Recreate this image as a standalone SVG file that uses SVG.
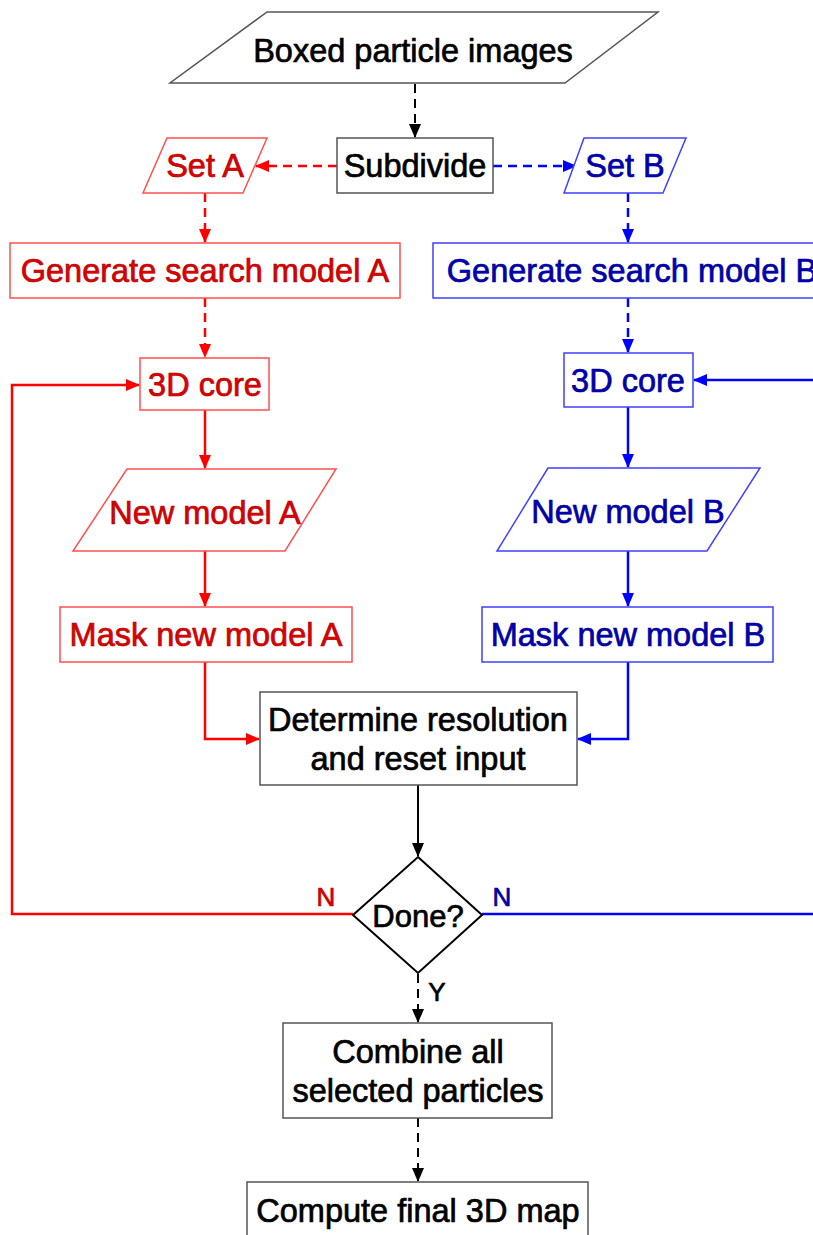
<svg xmlns="http://www.w3.org/2000/svg" width="813" height="1235" viewBox="0 0 813 1235">
<style>
text{font-family:"Liberation Sans",Arial,sans-serif;font-size:32.5px;text-anchor:middle;stroke-width:0.7}
.k{fill:#000;stroke:#000}
.r{fill:#e00000;stroke:#b00000}
.b{fill:#0000b4;stroke:#000090}
.nk{fill:#fff;stroke:#555;stroke-width:1.5}
.nr{fill:#fff;stroke:#ff5050;stroke-width:1.5}
.nb{fill:#fff;stroke:#4040ff;stroke-width:1.5}
.lk{fill:none;stroke:#000;stroke-width:2}
.lr{fill:none;stroke:#ff0000;stroke-width:2.5}
.lb{fill:none;stroke:#0000ff;stroke-width:2.5}
.d{stroke-dasharray:9 6}
.lbl{font-size:26px}
</style>
<defs>
<marker id="ak" markerUnits="userSpaceOnUse" markerWidth="14" markerHeight="12" refX="13" refY="6" orient="auto"><path d="M0,0 L14,6 L0,12 Z" fill="#000"/></marker>
<marker id="ar" markerUnits="userSpaceOnUse" markerWidth="14" markerHeight="12" refX="13" refY="6" orient="auto"><path d="M0,0 L14,6 L0,12 Z" fill="#ff0000"/></marker>
<marker id="ab" markerUnits="userSpaceOnUse" markerWidth="14" markerHeight="12" refX="13" refY="6" orient="auto"><path d="M0,0 L14,6 L0,12 Z" fill="#0000ff"/></marker>
</defs>
<g id="connectors">
<path class="lk d" d="M415,84 V137" marker-end="url(#ak)"/>
<path class="lr d" d="M337,166 H256" marker-end="url(#ar)"/>
<path class="lb d" d="M493,166 H576" marker-end="url(#ab)"/>
<path class="lr d" d="M205,193 V242" marker-end="url(#ar)"/>
<path class="lb d" d="M628,193 V242" marker-end="url(#ab)"/>
<path class="lr d" d="M205,298 V357" marker-end="url(#ar)"/>
<path class="lb d" d="M628,298 V352" marker-end="url(#ab)"/>
<path class="lr" d="M205,410 V468" marker-end="url(#ar)"/>
<path class="lb" d="M628,407 V467" marker-end="url(#ab)"/>
<path class="lr" d="M205,551 V606" marker-end="url(#ar)"/>
<path class="lb" d="M628,551 V606" marker-end="url(#ab)"/>
<path class="lr" d="M205,662 V739 H259" marker-end="url(#ar)"/>
<path class="lb" d="M628,662 V739 H578" marker-end="url(#ab)"/>
<path class="lk" d="M418,785 V856" marker-end="url(#ak)"/>
<path class="lr" d="M353,914 H12 V385 H139" marker-end="url(#ar)"/>
<path class="lb" d="M482,914 H815 M815,380 H694" marker-end="url(#ab)"/>
<path class="lk d" d="M418,974 V1022" marker-end="url(#ak)"/>
<path class="lk d" d="M418,1118 V1181" marker-end="url(#ak)"/>
<text class="r lbl" x="326" y="906">N</text>
<text class="b lbl" x="502" y="906">N</text>
<text class="k lbl" x="437" y="1001">Y</text>
</g>
<g id="boxed"><polygon class="nk" points="267,12 658,12 565,83 170,83"/><text class="k" x="413" y="62">Boxed particle images</text></g>
<g id="subdivide"><rect class="nk" x="337" y="138" width="156" height="55"/><text class="k" x="415" y="177">Subdivide</text></g>
<g id="setA"><polygon class="nr" points="167,138 267,138 243,193 143,193"/><text class="r" x="205" y="177">Set A</text></g>
<g id="setB"><polygon class="nb" points="584,138 686,138 663,193 564,193"/><text class="b" x="625" y="177">Set B</text></g>
<g id="genA"><rect class="nr" x="10" y="243" width="390" height="55"/><text class="r" x="205" y="282">Generate search model A</text></g>
<g id="genB"><rect class="nb" x="433" y="243" width="398" height="55"/><text class="b" x="632" y="282">Generate search model B</text></g>
<g id="coreA"><rect class="nr" x="140" y="358" width="129" height="52"/><text class="r" x="205" y="396">3D core</text></g>
<g id="coreB"><rect class="nb" x="564" y="353" width="129" height="54"/><text class="b" x="628" y="392">3D core</text></g>
<g id="newA"><polygon class="nr" points="127,469 336,469 285,551 73,551"/><text class="r" x="205" y="524">New model A</text></g>
<g id="newB"><polygon class="nb" points="548,468 760,468 707,551 497,551"/><text class="b" x="628" y="523">New model B</text></g>
<g id="maskA"><rect class="nr" x="60" y="607" width="292" height="55"/><text class="r" x="206" y="646">Mask new model A</text></g>
<g id="maskB"><rect class="nb" x="482" y="607" width="291" height="55"/><text class="b" x="628" y="646">Mask new model B</text></g>
<g id="determine"><rect class="nk" x="260" y="692" width="317" height="93"/><text class="k" x="418" y="731">Determine resolution</text><text class="k" x="418" y="770">and reset input</text></g>
<g id="done"><polygon class="nk" style="stroke:#000;stroke-width:2" points="418,857 482,915 418,973 353,915"/><text class="k" x="418" y="927" style="font-size:31px">Done?</text></g>
<g id="combine"><rect class="nk" x="283" y="1023" width="269" height="95"/><text class="k" x="418" y="1063">Combine all</text><text class="k" x="418" y="1102">selected particles</text></g>
<g id="compute"><rect class="nk" x="247" y="1182" width="341" height="60"/><text class="k" x="418" y="1222">Compute final 3D map</text></g>
</svg>
